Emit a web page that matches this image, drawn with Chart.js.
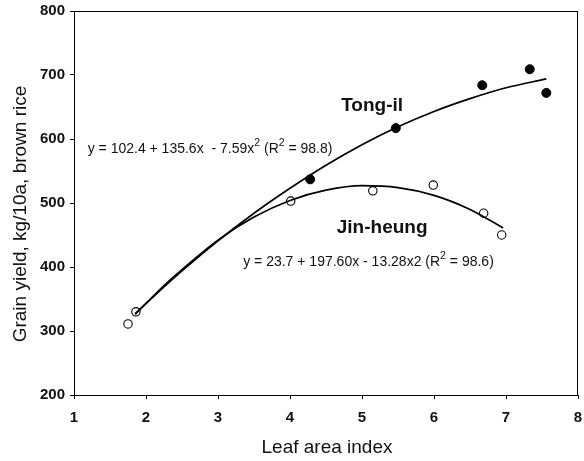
<!DOCTYPE html>
<html>
<head>
<meta charset="utf-8">
<script src="https://cdn.jsdelivr.net/npm/chart.js@4/dist/chart.umd.min.js"></script>
<style>
  html, body { margin: 0; padding: 0; background: #fff; }
  #wrap { width: 584px; height: 461px; }
</style>
</head>
<body>
<div id="wrap"><canvas id="c" width="584" height="461"></canvas></div>
<script>
// ---- Data ----
const xTicks = [1, 2, 3, 4, 5, 6, 7, 8];
const yTicks = [200, 300, 400, 500, 600, 700, 800];

// Tong-il observations (filled circles)
const tongX = [4.28, 5.47, 6.67, 7.33, 7.56];
const tongY = [537, 617, 684, 709, 672];

// Jin-heung observations (open circles)
const jinX = [1.75, 1.86, 4.01, 5.15, 5.99, 6.69, 6.94];
const jinY = [311, 330, 503, 519, 528, 484, 450];

// Fitted curves
const tongCurveX = [1.85, 2.25, 2.5, 3, 3.5, 4, 4.5, 5, 5.5, 6, 6.5, 7, 7.56];
const tongCurveY = [327, 369, 394, 441, 484, 523, 559, 591, 619, 643, 663, 680, 694];
const jinCurveX = [1.85, 2.25, 2.5, 3, 3.5, 4, 4.5, 5, 5.5, 6, 6.5, 6.96];
const jinCurveY = [326, 371, 396, 442, 478, 504, 520, 527, 524, 512, 490, 461];

// Text
const seriesNames = ["Tong-il", "Jin-heung"];
const eqTong = [["y = 102.4 + 135.6x  - 7.59x", 0], ["2", 1], [" (R", 0], ["2", 1], [" = 98.8)", 0]];
const eqJin = [["y = 23.7 + 197.60x - 13.28x2 (R", 0], ["2", 1], [" = 98.6)", 0]];
const xTitle = "Leaf area index";
const yTitle = "Grain yield, kg/10a, brown rice";

const toPts = (xs, ys) => xs.map((x, i) => ({ x: x, y: ys[i] }));

const FONT = "Arial, 'Liberation Sans', sans-serif";

const annot = {
  id: 'annot',
  afterDraw(chart) {
    const { ctx, chartArea: a, scales: { x, y } } = chart;
    ctx.save();
    // full frame box
    ctx.strokeStyle = '#000';
    ctx.lineWidth = 1;
    ctx.strokeRect(a.left + 0.5, a.top + 0.5, a.right - a.left - 1, a.bottom - a.top);

    ctx.fillStyle = '#111';
    // series labels
    ctx.font = 'bold 19px ' + FONT;
    ctx.textAlign = 'center';
    ctx.textBaseline = 'middle';
    ctx.fillText(seriesNames[0], x.getPixelForValue(5.14), y.getPixelForValue(652));
    ctx.fillText(seriesNames[1], x.getPixelForValue(5.28), y.getPixelForValue(461));

    // equations with superscripts
    const drawEq = (segs, xv, yv) => {
      let px = x.getPixelForValue(xv);
      const py = y.getPixelForValue(yv);
      ctx.textAlign = 'left';
      ctx.textBaseline = 'middle';
      segs.forEach(([t, sup]) => {
        ctx.font = (sup ? '10.5px ' : '14px ') + FONT;
        ctx.fillText(t, px, sup ? py - 6 : py);
        px += ctx.measureText(t).width;
      });
    };
    drawEq(eqTong, 1.19, 584);
    drawEq(eqJin, 3.35, 408);

    // axis titles
    ctx.font = '19px ' + FONT;
    ctx.textAlign = 'center';
    ctx.textBaseline = 'middle';
    ctx.fillText(xTitle, (a.left + a.right) / 2 + 1, 448);
    ctx.translate(21, 214);
    ctx.rotate(-Math.PI / 2);
    ctx.fillText(yTitle, 0, 0);
    ctx.restore();
  }
};

new Chart(document.getElementById('c'), {
  type: 'scatter',
  data: {
    datasets: [
      { label: seriesNames[0] + ' fit', data: toPts(tongCurveX, tongCurveY), showLine: true,
        borderColor: '#000', borderWidth: 1.7, pointRadius: 0, cubicInterpolationMode: 'monotone', fill: false },
      { label: seriesNames[1] + ' fit', data: toPts(jinCurveX, jinCurveY), showLine: true,
        borderColor: '#000', borderWidth: 1.7, pointRadius: 0, cubicInterpolationMode: 'monotone', fill: false },
      { label: seriesNames[0], data: toPts(tongX, tongY), pointRadius: 4.5,
        backgroundColor: '#000', borderColor: '#000', borderWidth: 1 },
      { label: seriesNames[1], data: toPts(jinX, jinY), pointRadius: 4.2,
        backgroundColor: '#fff', borderColor: '#000', borderWidth: 1.1 }
    ]
  },
  options: {
    responsive: false,
    animation: false,
    devicePixelRatio: 1,
    layout: { padding: { top: 11, right: 0, left: 0, bottom: 0 } },
    plugins: { legend: { display: false }, tooltip: { enabled: false } },
    scales: {
      x: {
        type: 'linear', min: xTicks[0], max: xTicks[xTicks.length - 1],
        afterFit: s => { s.height = 66; s.paddingLeft = 0; s.paddingRight = 6; },
        afterBuildTicks: s => { s.ticks = xTicks.map(v => ({ value: v })); },
        ticks: { color: '#111', font: { family: FONT, size: 15, weight: 'bold' }, padding: 10 },
        grid: { display: true, drawOnChartArea: false, drawTicks: true, tickLength: 4, color: '#000' },
        border: { display: true, color: '#000', width: 1 }
      },
      y: {
        type: 'linear', min: yTicks[0], max: yTicks[yTicks.length - 1],
        afterFit: s => { s.width = 74; s.paddingTop = 0; s.paddingBottom = 0; },
        afterBuildTicks: s => { s.ticks = yTicks.map(v => ({ value: v })); },
        ticks: { color: '#111', font: { family: FONT, size: 15, weight: 'bold' }, padding: 5 },
        grid: { display: true, drawOnChartArea: false, drawTicks: true, tickLength: 4, color: '#000' },
        border: { display: true, color: '#000', width: 1 }
      }
    }
  },
  plugins: [annot]
});
</script>
</body>
</html>
